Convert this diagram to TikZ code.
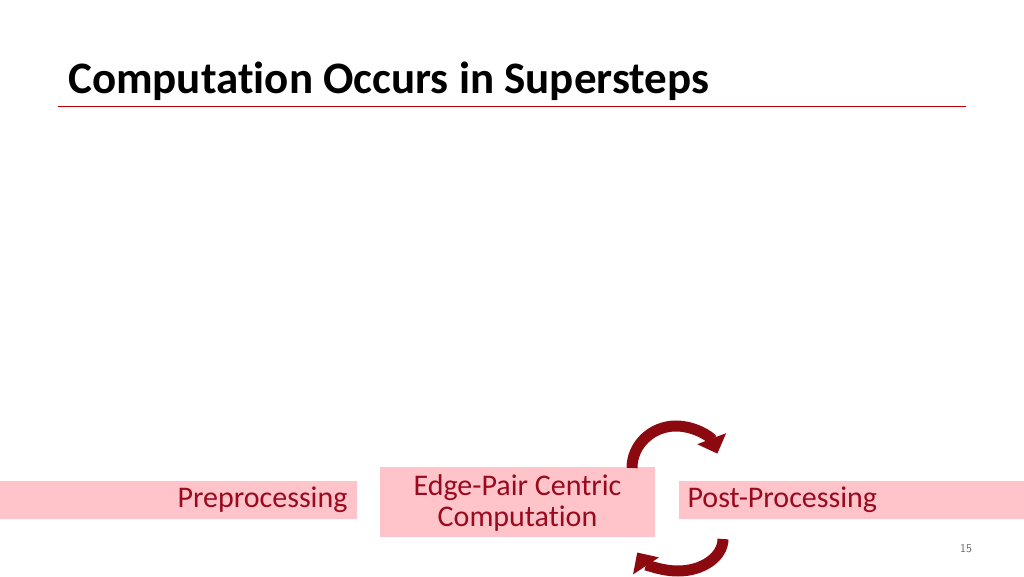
\documentclass[tikz,border=0pt]{standalone}
\usepackage{fontspec}
\setmainfont[Ligatures={NoCommon}]{Carlito}
\usetikzlibrary{arrows.meta}
\definecolor{dred}{HTML}{9A0A1E}
\definecolor{pinkf}{HTML}{FFC4CA}
\definecolor{arr}{HTML}{8C0A0F}
\begin{document}
\begin{tikzpicture}[x=1pt,y=1pt,
 box/.style={fill=pinkf,draw=none,inner sep=0},
 lbl/.style={text=dred,font=\fontsize{30}{34}\selectfont},
 cyc/.style={draw=arr,line width=11pt,-{Triangle[length=16pt,width=30pt]}}]
\useasboundingbox (0,0) rectangle (1024,576);
\node[anchor=base west,font=\bfseries\fontsize{45}{50}\selectfont,inner sep=0] (title) at (68,482) {Computation Occurs in Supersteps};
\draw[draw=red!75!black,line width=0.8pt] (58,470) coordinate (l1) -- (966,470) coordinate (l2);
\node[box,minimum width=357,minimum height=38,anchor=south west] (pre) at (0,57) {};
\node[lbl,anchor=east] (pret) at (351,76) {Preprocessing};
\node[box,minimum width=275,minimum height=70,anchor=south west] (mid) at (380,39) {};
\node[lbl,align=center,font=\fontsize{30}{31}\selectfont] (midt) at (517.5,73.5) {Edge-Pair Centric\\Computation};
\node[box,minimum width=345,minimum height=38,anchor=south west] (post) at (679,57) {};
\node[lbl,anchor=west] (postt) at (684,76) {Post-Processing};
\draw[cyc] (632,108) arc[start angle=180,end angle=20,x radius=44,y radius=42];
\draw[cyc] (723,37) arc[start angle=0,end angle=-155,x radius=45,y radius=32];
\node[text=gray!80!black,font=\sffamily\fontsize{12}{14}\selectfont] (pg) at (966,27) {15};
\end{tikzpicture}
\end{document}
